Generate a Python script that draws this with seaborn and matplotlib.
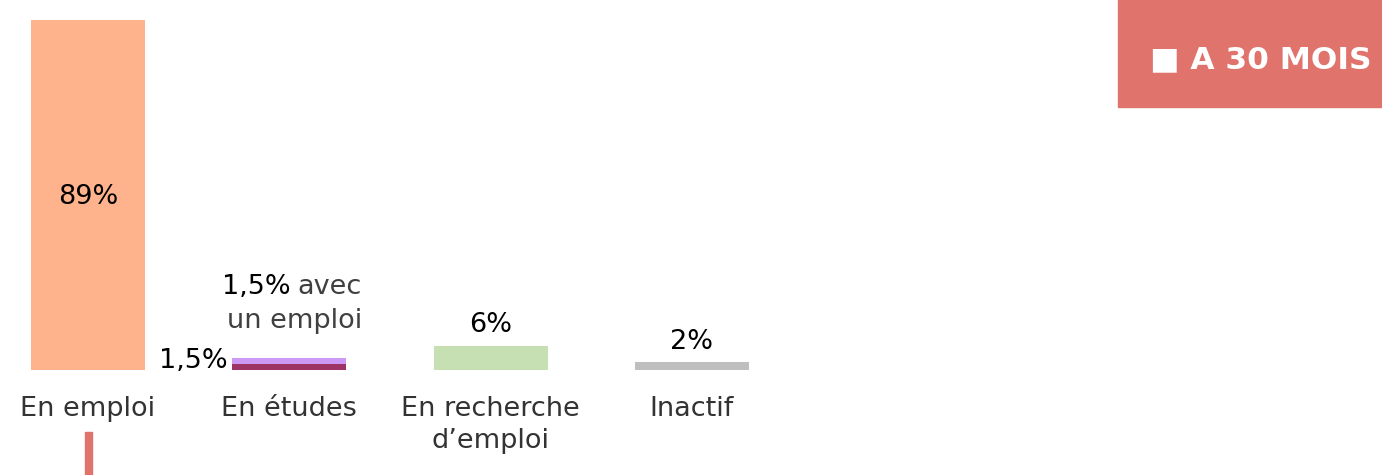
import pandas as pd
import matplotlib.pyplot as plt
import seaborn as sns
from matplotlib.patches import Rectangle

# Data
categories = ["En emploi", "En études", "En recherche\nd’emploi", "Inactif"]
values = [89, 1.5, 6, 2]
etudes_avec_emploi = 1.5  # upper segment of the "En études" bar
value_labels = ["89%", "1,5%", "6%", "2%"]
bar_colors = ["#FFB38D", "#9E3366", "#C6E0B4", "#BFBFBF"]
avec_emploi_color = "#CC99F5"

df = pd.DataFrame({"Categorie": categories, "Valeur": values})
df["Total"] = df["Valeur"]
df.loc[1, "Total"] = values[1] + etudes_avec_emploi

sns.set_style("white")
plt.rcParams["font.family"] = ["DejaVu Sans"]

fig = plt.figure(figsize=(13.82, 4.75), dpi=100)
ax = fig.add_axes([0, 105 / 475, 1, 370 / 475])

# Stacked "En études": totals first, then the lower segment on top
tot_colors = [bar_colors[0], avec_emploi_color, bar_colors[2], bar_colors[3]]
sns.barplot(ax=ax, data=df, x="Categorie", y="Total", hue="Categorie",
            palette=tot_colors, width=0.566, legend=False, saturation=1, linewidth=0)
sns.barplot(ax=ax, data=df.iloc[[1]], x="Categorie", y="Valeur", hue="Categorie",
            palette=[bar_colors[1]], width=0.566, legend=False, saturation=1,
            order=categories, linewidth=0)

ax.set_xlim(-0.437, 6.428)
ax.set_ylim(0, 94.1)
ax.axis("off")

fs = 19.5
# value labels
ax.text(0, 44.0, value_labels[0], ha="center", va="center", fontsize=fs, color="black")
ax.text(2, 11.4, value_labels[2], ha="center", va="center", fontsize=fs, color="black")
ax.text(3, 7.2, value_labels[3], ha="center", va="center", fontsize=fs, color="black")
ax.text(0.695, 2.3, value_labels[1], ha="right", va="center", fontsize=fs, color="black")
ax.text(1.361, 12.4, "un emploi", ha="right", va="center", fontsize=fs, color="#404040")
avec = ax.text(1.361, 21.1, "avec", ha="right", va="center", fontsize=fs, color="#404040")
ax.annotate("1,5%", xy=(0, 0.5), xycoords=avec, xytext=(-5, 0),
            textcoords="offset points", ha="right", va="center", fontsize=fs, color="black")

# category labels under the bars
for i, cat in enumerate(categories):
    ax.text(i, -6.5, cat, ha="center", va="top", fontsize=fs, color="#333333",
            linespacing=1.3)

# red header box top right
fig.patches.append(Rectangle((1118 / 1382, 1 - 107 / 475), 264 / 1382, 107 / 475,
                             transform=fig.transFigure, color="#E0736B", zorder=0))
fig.text(1261 / 1382, 1 - 60 / 475, "■ A 30 MOIS", ha="center", va="center",
         fontsize=22.5, fontweight="bold", color="white")

# piece of the next chart, cut at the bottom edge
fig.patches.append(Rectangle((85 / 1382, 0), 7 / 1382, 43 / 475,
                             transform=fig.transFigure, color="#E0736B"))

fig.savefig("out.png", dpi=100)
